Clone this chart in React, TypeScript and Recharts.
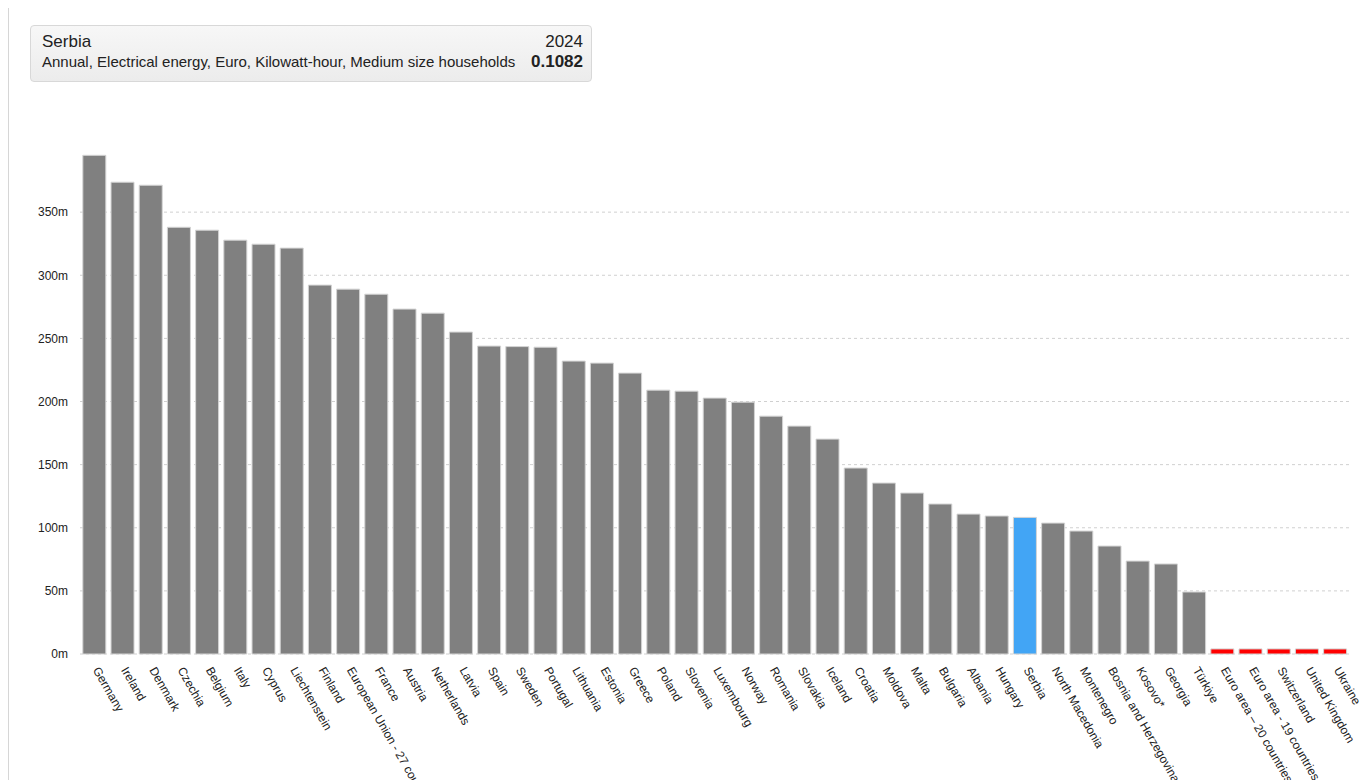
import React from "react";
import { BarChart, Bar, XAxis, YAxis, CartesianGrid, Cell } from "recharts";

const categories: string[] = [
  "Germany", "Ireland", "Denmark", "Czechia", "Belgium", "Italy", "Cyprus", "Liechtenstein", "Finland",
  "European Union - 27 countries (from 2020)", "France", "Austria", "Netherlands", "Latvia", "Spain", "Sweden",
  "Portugal", "Lithuania", "Estonia", "Greece", "Poland", "Slovenia", "Luxembourg", "Norway", "Romania",
  "Slovakia", "Iceland", "Croatia", "Moldova", "Malta", "Bulgaria", "Albania", "Hungary", "Serbia",
  "North Macedonia", "Montenegro", "Bosnia and Herzegovina", "Kosovo*", "Georgia", "Türkiye",
  "Euro area – 20 countries (from 2023)", "Euro area - 19 countries (2015-2022)", "Switzerland",
  "United Kingdom", "Ukraine",
];

const values: number[] = [
  0.395, 0.3737, 0.3713, 0.338, 0.3357, 0.3278, 0.3246, 0.3215, 0.2922,
  0.289, 0.285, 0.2732, 0.27, 0.255, 0.2439, 0.2435,
  0.243, 0.232, 0.2304, 0.2225, 0.209, 0.2082, 0.2027, 0.1995, 0.1884,
  0.1805, 0.1702, 0.1473, 0.1354, 0.1275, 0.1188, 0.1108, 0.1093, 0.1082,
  0.1037, 0.0974, 0.0855, 0.0736, 0.0713, 0.0491,
  0.004, 0.004, 0.004, 0.004, 0.004,
];

const missing: string[] = [
  "Euro area – 20 countries (from 2023)", "Euro area - 19 countries (2015-2022)", "Switzerland",
  "United Kingdom", "Ukraine",
];

const highlighted = "Serbia";
const yTicks: number[] = [0, 0.05, 0.1, 0.15, 0.2, 0.25, 0.3, 0.35];
const headerTitle = "Serbia";
const headerSubtitle = "Annual, Electrical energy, Euro, Kilowatt-hour, Medium size households";
const headerYear = "2024";
const headerValue = "0.1082";

const data = categories.map((name, i) => ({ name, value: values[i] }));

const FONT = "'Liberation Sans', Arial, sans-serif";

const XTick = (props: any) => {
  const { x, y, payload } = props;
  const ax = x - 1.5;
  const ay = y + 8;
  return (
    <text
      x={ax}
      y={ay}
      transform={`rotate(60, ${ax}, ${ay})`}
      textAnchor="start"
      fontSize={12}
      fontFamily={FONT}
      fill="#222"
    >
      {payload.value}
    </text>
  );
};

const fmt = (v: number) => `${Math.round(v * 1000)}m`;

export default function App() {
  return (
    <div style={{ position: "relative", width: 1360, height: 772, borderLeft: "1px solid #d6d6d6", boxSizing: "border-box", fontFamily: FONT }}>
      <div
        style={{
          position: "absolute",
          left: 21,
          top: 17,
          width: 562,
          height: 57,
          boxSizing: "border-box",
          border: "1px solid #d8d8d8",
          borderRadius: 4,
          background: "linear-gradient(#f7f7f7, #ececec)",
          padding: "6px 8px 0 11px",
          color: "#222",
          zIndex: 2,
        }}
      >
        <div style={{ display: "flex", justifyContent: "space-between", fontSize: 17, lineHeight: "20px" }}>
          <span>{headerTitle}</span>
          <span>{headerYear}</span>
        </div>
        <div style={{ display: "flex", justifyContent: "space-between", alignItems: "baseline", lineHeight: "20px" }}>
          <span style={{ fontSize: 15 }}>{headerSubtitle}</span>
          <span style={{ fontSize: 17, fontWeight: "bold" }}>{headerValue}</span>
        </div>
      </div>
      <div style={{ position: "absolute", left: -1, top: 0 }}>
        <BarChart
          width={1360}
          height={772}
          data={data}
          margin={{ top: 141, right: 19, bottom: 0, left: 12 }}
          barCategoryGap="10%"
        >
          <CartesianGrid vertical={false} stroke="#d0d0d0" strokeDasharray="3 3" syncWithTicks />
          <XAxis
            dataKey="name"
            interval={0}
            tick={<XTick />}
            tickLine={false}
            axisLine={false}
            height={126}
          />
          <YAxis
            domain={[0, 0.4]}
            ticks={yTicks}
            tickFormatter={fmt}
            tickLine={false}
            axisLine={false}
            width={60}
            tickMargin={6}
            tick={{ fontSize: 12, fill: "#222", fontFamily: FONT }}
          />
          <Bar dataKey="value" isAnimationActive={false} stroke="#d4d4d4" strokeWidth={1}>
            {data.map((d) => (
              <Cell
                key={d.name}
                fill={missing.includes(d.name) ? "#ff0000" : d.name === highlighted ? "#42a5f5" : "#808080"}
              />
            ))}
          </Bar>
        </BarChart>
      </div>
    </div>
  );
}
